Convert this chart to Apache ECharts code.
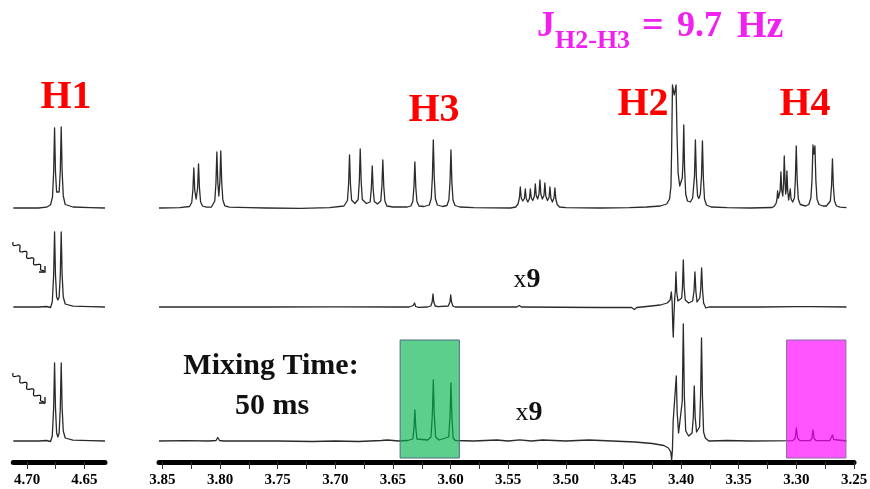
<!DOCTYPE html>
<html><head><meta charset="utf-8">
<script src="https://cdn.jsdelivr.net/npm/echarts@6/dist/echarts.min.js"></script>
<style>html,body{margin:0;padding:0;background:#fff}#c{width:870px;height:489px}</style>
</head><body><div id="c"></div>
<script>
// ---- data: [ppm, intensity] ----
const h1Top = [[4.712,0],[4.690,0],[4.6830,0.8],[4.6795,3.2],[4.6778,11],[4.6768,36],[4.6760,80],[4.6752,36],[4.6742,16],[4.6731,15],[4.6720,16],[4.6710,37],[4.6702,81],[4.6694,37],[4.6684,12],[4.6667,3.5],[4.660,1],[4.645,0.3],[4.632,0]];
const h1Mid = [[4.712,0],[4.690,0],[4.6830,0.5],[4.6795,-0.5],[4.6780,5],[4.6768,32],[4.6760,75],[4.6752,32],[4.6742,10],[4.6731,7],[4.6720,10],[4.6710,32],[4.6702,75],[4.6694,32],[4.6684,10],[4.6667,3],[4.660,0.8],[4.645,0.3],[4.632,0]];
const h1Bot = [[4.712,0],[4.690,0],[4.6830,0.5],[4.6795,-0.5],[4.6780,5],[4.6768,33],[4.6760,78],[4.6752,33],[4.6742,8],[4.6731,4],[4.6720,8],[4.6710,33],[4.6702,78],[4.6694,33],[4.6684,10],[4.6667,3],[4.660,0.8],[4.645,0.3],[4.632,0]];

const specTop = [
 [3.853,0],[3.835,0.3],[3.8265,1.5],[3.8246,5.5],[3.8236,18],[3.8228,40],[3.8220,18],[3.8208,9],[3.8195,20],[3.8187,44],[3.8179,20],[3.8169,6],[3.8152,2],[3.812,0.8],
 [3.8075,1],[3.8046,7],[3.8036,25],[3.8028,56],[3.8020,26],[3.8011,12],[3.8002,26],[3.7994,57],[3.7986,26],[3.7976,8],[3.7959,2.2],[3.792,0.8],[3.775,0.3],
 [3.760,0],[3.730,-0.3],[3.705,0.3],
 [3.6925,2],[3.6895,7.5],[3.6885,24],[3.6877,53],[3.6869,24],[3.6859,8],[3.6830,4.5],[3.6802,8.5],[3.6792,27],[3.6784,59],[3.6776,27],[3.6766,8.5],[3.6730,4.5],[3.6698,6],[3.6688,19],[3.6680,42],[3.6672,19],[3.6662,6.5],[3.6635,4],[3.6606,7],[3.6596,22],[3.6588,48],[3.6580,22],[3.6570,7],[3.6553,2],[3.650,1],
 [3.6375,1],[3.6345,2],[3.6328,6.5],[3.6318,21],[3.6310,46],[3.6302,21],[3.6292,6.5],[3.6275,2],[3.623,1.5],[3.6185,3],[3.6168,9.5],[3.6158,31],[3.6150,68],[3.6142,31],[3.6132,9.5],[3.6115,3],[3.607,1.5],[3.6032,2.5],[3.6015,8],[3.6005,26],[3.5997,58],[3.5989,26],[3.5979,8],[3.5962,2.5],[3.592,1],[3.580,0.3],
 [3.548,0],[3.5435,1],[3.5415,4],[3.5403,10],[3.5395,21],[3.5387,10],[3.5374,7],[3.5360,9.5],[3.5352,19],[3.5344,9.5],[3.5330,6],[3.5316,9.5],[3.5308,19],[3.5300,10],[3.5287,7.5],[3.5273,12],[3.5265,24],[3.5257,12.5],[3.5245,9],[3.5233,14],[3.5225,28],[3.5217,14],[3.5204,9],[3.5190,12.5],[3.5182,25],[3.5174,12],[3.5160,7.5],[3.5146,10.5],[3.5138,21],[3.5130,10],[3.5117,6],[3.5103,10],[3.5095,20],[3.5087,9],[3.5075,3.5],[3.5055,1],[3.500,0.3],
 [3.470,0],[3.445,0.3],[3.430,1],[3.418,2],[3.4125,4],[3.4100,9],[3.4088,22],[3.4082,60],[3.4075,123],[3.4060,113],[3.4044,123],[3.4036,75],[3.4026,35],[3.4012,22],[3.4000,20],[3.3990,30],[3.3984,45],[3.3977,83],[3.3970,40],[3.3960,14],[3.3945,7],[3.3920,6],[3.3900,10],[3.3884,32],[3.3876,68],[3.3868,32],[3.3857,12],[3.3846,9.5],[3.3833,14],[3.3823,32],[3.3815,67],[3.3807,30],[3.3797,9],[3.3780,3],[3.374,1],[3.360,0.3],[3.340,0],
 [3.3210,0.5],[3.3190,2],[3.3175,5],[3.3168,9],[3.3163,17],[3.3156,10],[3.3148,8],[3.3141,17],[3.3134,36],[3.3127,18],[3.3118,12],[3.3111,25],[3.3105,52],[3.3098,26],[3.3093,14],[3.3088,18],[3.3082,37],[3.3075,17],[3.3067,8],[3.3060,9.5],[3.3053,19],[3.3046,9],[3.3032,6],[3.3017,10],[3.3009,28],[3.3001,62],[3.2993,28],[3.2983,9],[3.2966,3.5],[3.292,2],[3.2892,3.5],[3.2874,10],[3.2864,29],[3.2856,63],[3.2848,54],[3.2839,62],[3.2831,28],[3.2821,9],[3.2804,3.5],[3.277,2],[3.2740,2],[3.2705,7],[3.2695,22],[3.2687,49],[3.2679,22],[3.2669,7],[3.2652,2],[3.262,0.8],[3.2565,0.3]
];

const specMid = [
 [3.853,0],[3.760,0],[3.700,0.2],[3.650,0],[3.636,0],[3.6325,1.5],[3.6313,4],[3.6303,0.5],[3.6295,-1.5],[3.628,-0.3],[3.620,0],[3.6172,1],[3.6160,5],[3.6153,13],[3.6146,5],[3.6134,1],[3.6110,0.3],[3.6020,1],[3.6006,5],[3.5999,12],[3.5992,5],[3.5980,1],[3.596,0],
 [3.550,0],[3.5425,0],[3.5405,1.5],[3.5385,0],[3.470,-0.5],[3.443,-0.5],[3.4406,-2.5],[3.4385,-0.5],[3.430,0.5],[3.418,2],[3.412,4],[3.4095,7],[3.4085,15],[3.4078,5],[3.4072,-20],[3.4068,-30],[3.4062,-8],[3.4055,10],[3.4050,16],[3.4045,35],[3.4038,15],[3.4028,6],[3.4015,5],[3.3995,9],[3.3988,21],[3.3981,47],[3.3974,20],[3.3964,7],[3.3935,4],[3.3900,6],[3.3888,16],[3.3880,35],[3.3872,16],[3.3862,5],[3.3850,6],[3.3838,9],[3.3830,18],[3.3822,39],[3.3814,17],[3.3805,4],[3.3795,3],[3.3785,-1],[3.376,0],[3.330,0],
 [3.3010,0.3],[3.3001,1.5],[3.2992,0.3],[3.2864,0.3],[3.2856,1.5],[3.2848,0.3],[3.2565,0]
];

const specBot = [
 [3.853,0],[3.830,0.3],[3.810,0],[3.8035,0.5],[3.8020,3.5],[3.8005,0.5],[3.7990,2],[3.797,0],[3.750,0],[3.720,-0.5],[3.700,0],[3.680,-0.5],[3.660,0.5],[3.655,1],[3.645,0],
 [3.637,0.5],[3.6328,2],[3.6318,13],[3.6310,31],[3.6302,13],[3.6292,2],[3.628,0],[3.620,1],[3.6170,4],[3.6158,27],[3.6150,61],[3.6142,27],[3.6130,4],[3.610,1],[3.6016,4],[3.6005,25],[3.5997,58],[3.5989,25],[3.5978,3],[3.596,0.5],
 [3.580,0],[3.560,1],[3.550,0],[3.540,1.2],[3.530,0],[3.520,1],[3.500,0],[3.480,1],[3.460,0],[3.440,-1],[3.425,-2.5],[3.415,-4.5],[3.411,-7],[3.4090,-11],[3.4082,-19],[3.4075,-8],[3.4069,20],[3.4064,28],[3.4057,26],[3.4050,30],[3.4042,65],[3.4034,28],[3.4022,8],[3.4008,10],[3.3990,40],[3.3981,117],[3.3972,45],[3.3960,10],[3.3935,5],[3.3905,8],[3.3894,24],[3.3886,55],[3.3878,24],[3.3866,9],[3.3850,9],[3.3840,14],[3.3831,45],[3.3823,103],[3.3815,45],[3.3805,9],[3.3790,3],[3.376,0],[3.360,0.5],[3.340,0],
 [3.3030,0.3],[3.3010,3],[3.3000,13],[3.2990,3],[3.2970,0.3],[3.2880,0.3],[3.2866,2.5],[3.2856,11],[3.2846,2.5],[3.2830,0.3],[3.2710,0.3],[3.2697,1.5],[3.2687,6],[3.2677,1.5],[3.2660,0.3],[3.2565,0]
];

const leftLabels = [4.70, 4.65];
const leftTicks = [4.70, 4.675, 4.65];
const rightLabels = [3.85,3.80,3.75,3.70,3.65,3.60,3.55,3.50,3.45,3.40,3.35,3.30,3.25];
const rightTicks = [3.85,3.825,3.80,3.775,3.75,3.725,3.70,3.675,3.65,3.625,3.60,3.575,3.55,3.525,3.50,3.475,3.45,3.425,3.40,3.375,3.35,3.325,3.30,3.275,3.25];

// highlighted regions [ppmFrom, ppmTo], intensity span
const greenBox = [3.6438, 3.5924];
const pinkBox = [3.3085, 3.2570];
const boxY = [101, -17];

// ---- layout ----
const SERIF = "'Liberation Serif','Times New Roman',serif";
const rows = [
  {top:40, height:176, min:-8, max:168},
  {top:220, height:130, min:-43, max:87},
  {top:300, height:162, min:-21, max:141}
];
const cols = [
  {left:13.3, width:91.7, min:4.632, max:4.712, labels:leftLabels, ticks:leftTicks},
  {left:159, width:695, min:3.25, max:3.853, labels:rightLabels, ticks:rightTicks}
];
const seriesData = [[h1Top, specTop],[h1Mid, specMid],[h1Bot, specBot]];

const grid=[], xAxis=[], yAxis=[], series=[];
rows.forEach((r,ri)=>{
  cols.forEach((c,ci)=>{
    const idx = ri*2+ci;
    grid.push({left:c.left, width:c.width, top:r.top, height:r.height, outerBoundsMode:'none', containLabel:false});
    const isBottom = ri===2;
    xAxis.push({
      type:'value', gridIndex:idx, min:c.min, max:c.max, inverse:true, show:isBottom,
      splitLine:{show:false},
      axisLine:{show:isBottom, onZero:false, lineStyle:{color:'#000', width:5}},
      axisTick:{show:isBottom, length:7, customValues:c.ticks, lineStyle:{color:'#333', width:1}},
      axisLabel:{show:isBottom, customValues:c.labels, formatter:v=>v.toFixed(2), fontFamily:SERIF, fontWeight:'bold', fontSize:15, color:'#000', margin:11}
    });
    yAxis.push({type:'value', gridIndex:idx, min:r.min, max:r.max, show:false, splitLine:{show:false}});
    series.push({
      type:'line', xAxisIndex:idx, yAxisIndex:idx, data:seriesData[ri][ci],
      showSymbol:false, symbol:'none', clip:false, z:2,
      lineStyle:{color:'#2b2b2b', width:1.3, join:'round'}, animation:false
    });
  });
});

series.push({
  type:'line', xAxisIndex:5, yAxisIndex:5, data:[[3.5,0]], symbol:'none', z:5,
  lineStyle:{opacity:0}, animation:false,
  markArea:{silent:true, z:5, data:[
    [{xAxis:greenBox[0], yAxis:boxY[0], itemStyle:{color:'rgba(0,180,75,0.64)', borderColor:'#4f6a86', borderWidth:1}},{xAxis:greenBox[1], yAxis:boxY[1]}],
    [{xAxis:pinkBox[0], yAxis:boxY[0], itemStyle:{color:'rgba(255,0,255,0.667)', borderColor:'#8a6aa6', borderWidth:1}},{xAxis:pinkBox[1], yAxis:boxY[1]}]
  ]}
});

// decorative wavy arrows
function wavy(x0,y0,x1,y1,n,amp){
  const pts=[]; const dx=x1-x0, dy=y1-y0, L=Math.hypot(dx,dy);
  const px=-dy/L, py=dx/L; const N=n*12;
  for(let i=0;i<=N;i++){const t=i/N; const s=Math.sin(t*n*2*Math.PI)*amp*(t>0.9?(1-t)*10:1);
    pts.push([x0+dx*t+px*s, y0+dy*t+py*s]);}
  return pts;
}
function arrow(x0,y0,x1,y1){
  return [
    {type:'polyline', shape:{points:wavy(x0,y0,x1-1,y1-1,4.5,2.2)}, style:{stroke:'#111', lineWidth:1.2, fill:null}},
    {type:'polyline', shape:{points:[[x1-6,y1],[x1,y1],[x1,y1-6]]}, style:{stroke:'#111', lineWidth:1.3, fill:null}}
  ];
}
function txt(t,x,y,size,color,align){
  return {type:'text', x:x, y:y, style:{text:t, font:'bold '+size+'px '+SERIF, fill:color, align:align||'center', verticalAlign:'middle'}};
}
const graphic = [
  txt('H1',66,98,40,'#ff0000'),
  txt('H3',434,111,40,'#ff0000'),
  txt('H2',643,105,40,'#ff0000'),
  txt('H4',805,105,40,'#ff0000'),
  txt('J',537,27,36,'#f020f0','left'),
  txt('H2-H3',555,41,26,'#f020f0','left'),
  txt('=',642,27,38,'#f020f0','left'),
  txt('9.7',677,27,36,'#f020f0','left'),
  txt('Hz',737,27,38,'#f020f0','left'),
  txt('Mixing Time:',271,366,30,'#111'),
  txt('50 ms',272,406,30,'#111'),
  {type:'text', x:527, y:280, style:{text:'{a|x}{b|9}', align:'center', verticalAlign:'middle', rich:{a:{font:'26px '+SERIF, fill:'#111'}, b:{font:'bold 28px '+SERIF, fill:'#111'}}}},
  {type:'text', x:529, y:413, style:{text:'{a|x}{b|9}', align:'center', verticalAlign:'middle', rich:{a:{font:'26px '+SERIF, fill:'#111'}, b:{font:'bold 28px '+SERIF, fill:'#111'}}}},
  ...arrow(13,242,45,272),
  ...arrow(13,373,45,403)
];

const chart = echarts.init(document.getElementById('c'), null, {renderer:'canvas'});
chart.setOption({animation:false, backgroundColor:'#fff', grid, xAxis, yAxis, series, graphic});
</script></body></html>
